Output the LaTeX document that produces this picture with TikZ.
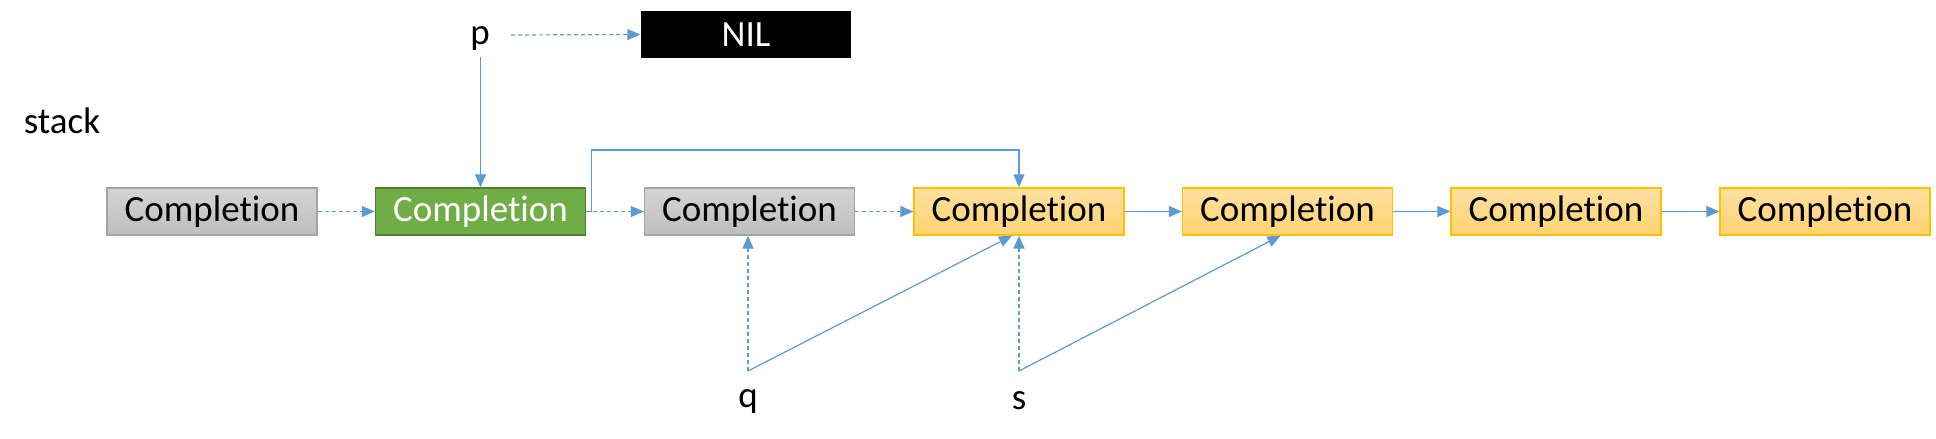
\documentclass[tikz,border=0pt]{standalone}
\usepackage{fontspec}
\setmainfont{Carlito}[Ligatures={NoCommon,NoContextual,NoRequired}]
\usetikzlibrary{arrows.meta}
\newcommand{\cmpl}{Complet\kern0pt ion}
\definecolor{arrowblue}{HTML}{5B9BD5}
\definecolor{graytop}{HTML}{D4D4D4}
\definecolor{graybot}{HTML}{BEBEBE}
\definecolor{grayline}{HTML}{A5A5A5}
\definecolor{greenfill}{HTML}{70AD47}
\definecolor{greenline}{HTML}{507E32}
\definecolor{orangetop}{HTML}{FFE0A3}
\definecolor{orangebot}{HTML}{FFD36F}
\definecolor{orangeline}{HTML}{FFC000}
\tikzset{
  lbl/.style={font=\fontsize{37}{44}\selectfont, inner sep=0pt},
  cbox/.style={lbl, minimum width=210pt, minimum height=47pt, line width=1.3pt},
  graybox/.style={cbox, draw=grayline, top color=graytop, bottom color=graybot},
  greenbox/.style={cbox, draw=greenline, fill=greenfill, text=white},
  orangebox/.style={cbox, draw=orangeline, top color=orangetop, bottom color=orangebot},
  nilbox/.style={cbox, fill=black, text=white},
  conn/.style={draw=arrowblue, line width=1.2pt, -{Triangle[length=13pt,width=11pt]}},
  dconn/.style={conn, dash pattern=on 4pt off 3pt},
}
\begin{document}
\begin{tikzpicture}[x=1pt,y=-1pt]
\useasboundingbox (0,0) rectangle (1936,439);
\node[lbl] (stack) at (62,121) {stack};
\node[lbl] (p) at (480,38) {p};
\node[lbl] (q) at (748,401) {q};
\node[lbl] (s) at (1019,401) {s};
\node[nilbox] (nil) at (746,34.5) {NIL};

\node[graybox] (b1) at (212,211.5) {\cmpl};
\node[greenbox] (b2) at (480.5,211.5) {\cmpl};
\node[graybox] (b3) at (749.5,211.5) {\cmpl};
\node[orangebox] (b4) at (1019,211.5) {\cmpl};
\node[orangebox] (b5) at (1287.5,211.5) {\cmpl};
\node[orangebox] (b6) at (1556,211.5) {\cmpl};
\node[orangebox] (b7) at (1825,211.5) {\cmpl};

\coordinate (pR) at (511,35);
\coordinate (pB) at (480.5,57);
\coordinate (qT) at (748,371);
\coordinate (sT) at (1019,371);

\draw[dconn] (pR) -- (nil.west);
\draw[conn] (pB) -- (b2.north);

\draw[dconn] (b1.east) -- (b2.west);
\draw[dconn] (b2.east) -- (b3.west);
\draw[dconn] (b3.east) -- (b4.west);
\draw[conn] (b4.east) -- (b5.west);
\draw[conn] (b5.east) -- (b6.west);
\draw[conn] (b6.east) -- (b7.west);

\draw[conn] (b2.east) -- ++(5,0) |- (1019,150) -- (b4.north);

\draw[dconn] (qT) -- (qT |- b3.south);
\draw[conn] (qT) -- ([xshift=-7pt]b4.south);
\draw[dconn] (sT) -- (b4.south);
\draw[conn] (sT) -- ([xshift=-7pt]b5.south);
\end{tikzpicture}
\end{document}
